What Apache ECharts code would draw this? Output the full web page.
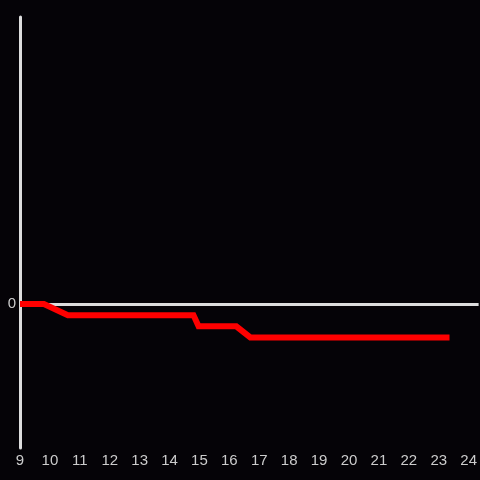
<!DOCTYPE html>
<html>
<head>
<meta charset="utf-8">
<script src="https://cdn.jsdelivr.net/npm/echarts@6/dist/echarts.min.js"></script>
<style>
  html, body { margin: 0; padding: 0; background: #050307; }
  #chart { width: 480px; height: 480px; }
</style>
</head>
<body>
<div id="chart"></div>
<script>
// hour of day -> value
const hours = [9, 9.8, 10.6, 14.8, 14.97, 16.23, 16.7, 23.36]
const values = [0, 0, -1, -1, -2, -2, -3, -3]
const xTicks = [9, 10, 11, 12, 13, 14, 15, 16, 17, 18, 19, 20, 21, 22, 23, 24]

const chart = echarts.init(document.getElementById('chart'))
chart.setOption({
  backgroundColor: '#050307',
  animation: false,
  grid: { left: 20, right: 0, top: 17, bottom: 32 },
  xAxis: {
    type: 'value',
    min: 9,
    max: 24.333,
    interval: 1,
    axisLine: { show: false },
    axisTick: { show: false },
    splitLine: { show: false },
    axisLabel: {
      color: '#cccccc',
      fontSize: 15,
      fontFamily: 'Liberation Sans',
      margin: 5,
      showMaxLabel: false,
      formatter: v => (xTicks.includes(Math.round(v)) && Math.abs(v - Math.round(v)) < 1e-6) ? String(Math.round(v)) : ''
    }
  },
  yAxis: {
    type: 'value',
    min: -12.9,
    max: 25.7,
    interval: 12.9,
    axisLine: { show: true, onZero: false, lineStyle: { color: '#dddddd', width: 3 } },
    axisTick: { show: false },
    splitLine: { show: false },
    axisLabel: {
      color: '#cccccc',
      fontSize: 15,
      fontFamily: 'Liberation Sans',
      margin: 4,
      formatter: v => Math.abs(v) < 1e-6 ? '0' : ''
    }
  },
  series: [{
    type: 'line',
    data: hours.map((h, i) => [h, values[i]]),
    symbol: 'none',
    lineStyle: { color: '#ff0000', width: 6, cap: 'butt', join: 'miter' },
    z: 3,
    markLine: {
      silent: true,
      symbol: 'none',
      label: { show: false },
      lineStyle: { color: '#dddddd', width: 3, type: 'solid' },
      data: [{ yAxis: 0 }],
      z: 1
    }
  }]
})
</script>
</body>
</html>
